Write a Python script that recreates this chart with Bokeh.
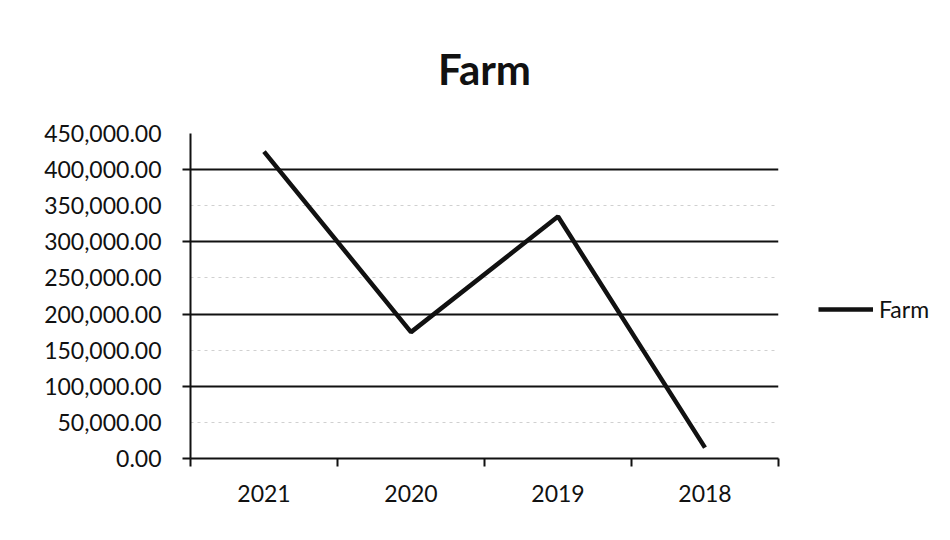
from bokeh.plotting import figure
from bokeh.models import (FixedTicker, LinearAxis, Range1d, Legend, LegendItem,
                          ColumnDataSource, NumeralTickFormatter)
from bokeh.embed import file_html
from bokeh.resources import INLINE

# Farm totals by year
years = ["2021", "2020", "2019", "2018"]
farm = [425000, 175000, 335000, 15000]

y_labels = [0, 50000, 100000, 150000, 200000, 250000, 300000, 350000, 400000, 450000]
y_grid = [100000, 200000, 300000, 400000]
y_faint = [50000, 150000, 250000, 350000, 450000]

FONT = "Lato"
INK = "#111111"

# each year sits in the middle of its own slot
slot_mid = [i + 0.5 for i in range(len(years))]
slot_edges = list(range(len(years) + 1))

src = ColumnDataSource(dict(x=slot_mid, year=years, value=farm))

p = figure(frame_width=588, frame_height=325, output_backend="svg",
           toolbar_location=None,
           x_range=Range1d(0, len(years)), y_range=Range1d(0, 450000),
           x_axis_location=None, y_axis_location=None,
           min_border_left=190, min_border_right=172,
           min_border_top=133, min_border_bottom=82,
           title="Farm")

p.title.text_font = FONT
p.title.text_font_size = "42px"
p.title.text_font_style = "bold"
p.title.text_color = INK
p.title.align = "center"
p.title.standoff = 79

p.outline_line_color = None
p.background_fill_color = "white"
p.border_fill_color = "white"
p.xgrid.grid_line_color = None

# value axis: labels every 50k, ticks every 100k
yax = LinearAxis(ticker=FixedTicker(ticks=y_labels, minor_ticks=[0] + y_grid),
                 formatter=NumeralTickFormatter(format="0,0.00"))
yax.axis_line_color = INK
yax.axis_line_width = 2
yax.major_tick_line_color = None
yax.major_tick_out = 0
yax.minor_tick_line_color = INK
yax.minor_tick_line_width = 2
yax.minor_tick_out = 8
yax.minor_tick_in = 0
yax.major_label_standoff = 21
yax.major_label_text_font = FONT
yax.major_label_text_font_size = "23px"
yax.major_label_text_color = INK
p.add_layout(yax, "left")

# horizontal gridlines
p.ygrid.ticker = FixedTicker(ticks=y_grid, minor_ticks=y_faint)
p.ygrid.grid_line_color = INK
p.ygrid.grid_line_width = 2.2
p.ygrid.minor_grid_line_color = "#b0b0b0"
p.ygrid.minor_grid_line_width = 1
p.ygrid.minor_grid_line_dash = "3 4"
p.ygrid.minor_grid_line_alpha = 0.6

# category axis: ticks on slot edges, year labels under slot centres
xax = LinearAxis(ticker=FixedTicker(ticks=slot_mid, minor_ticks=slot_edges))
xax.major_label_overrides = {m: y for m, y in zip(slot_mid, years)}
xax.axis_line_color = INK
xax.axis_line_width = 2.2
xax.major_tick_line_color = None
xax.major_tick_out = 0
xax.minor_tick_line_color = INK
xax.minor_tick_line_width = 2
xax.minor_tick_out = 8
xax.minor_tick_in = 0
xax.major_label_standoff = 18
xax.major_label_text_font = FONT
xax.major_label_text_font_size = "23px"
xax.major_label_text_color = INK
p.add_layout(xax, "below")

line = p.line("x", "value", source=src, line_color=INK, line_width=4.5)

legend = Legend(items=[LegendItem(label="Farm", renderers=[line])],
                location=(40, 135), orientation="vertical",
                border_line_color=None, background_fill_alpha=0,
                padding=0, margin=0, glyph_width=55, glyph_height=24,
                label_standoff=6, label_text_font=FONT,
                label_text_font_size="23px", label_text_color=INK)
p.add_layout(legend, "right")

open("out.html", "w").write(file_html(p, INLINE))
